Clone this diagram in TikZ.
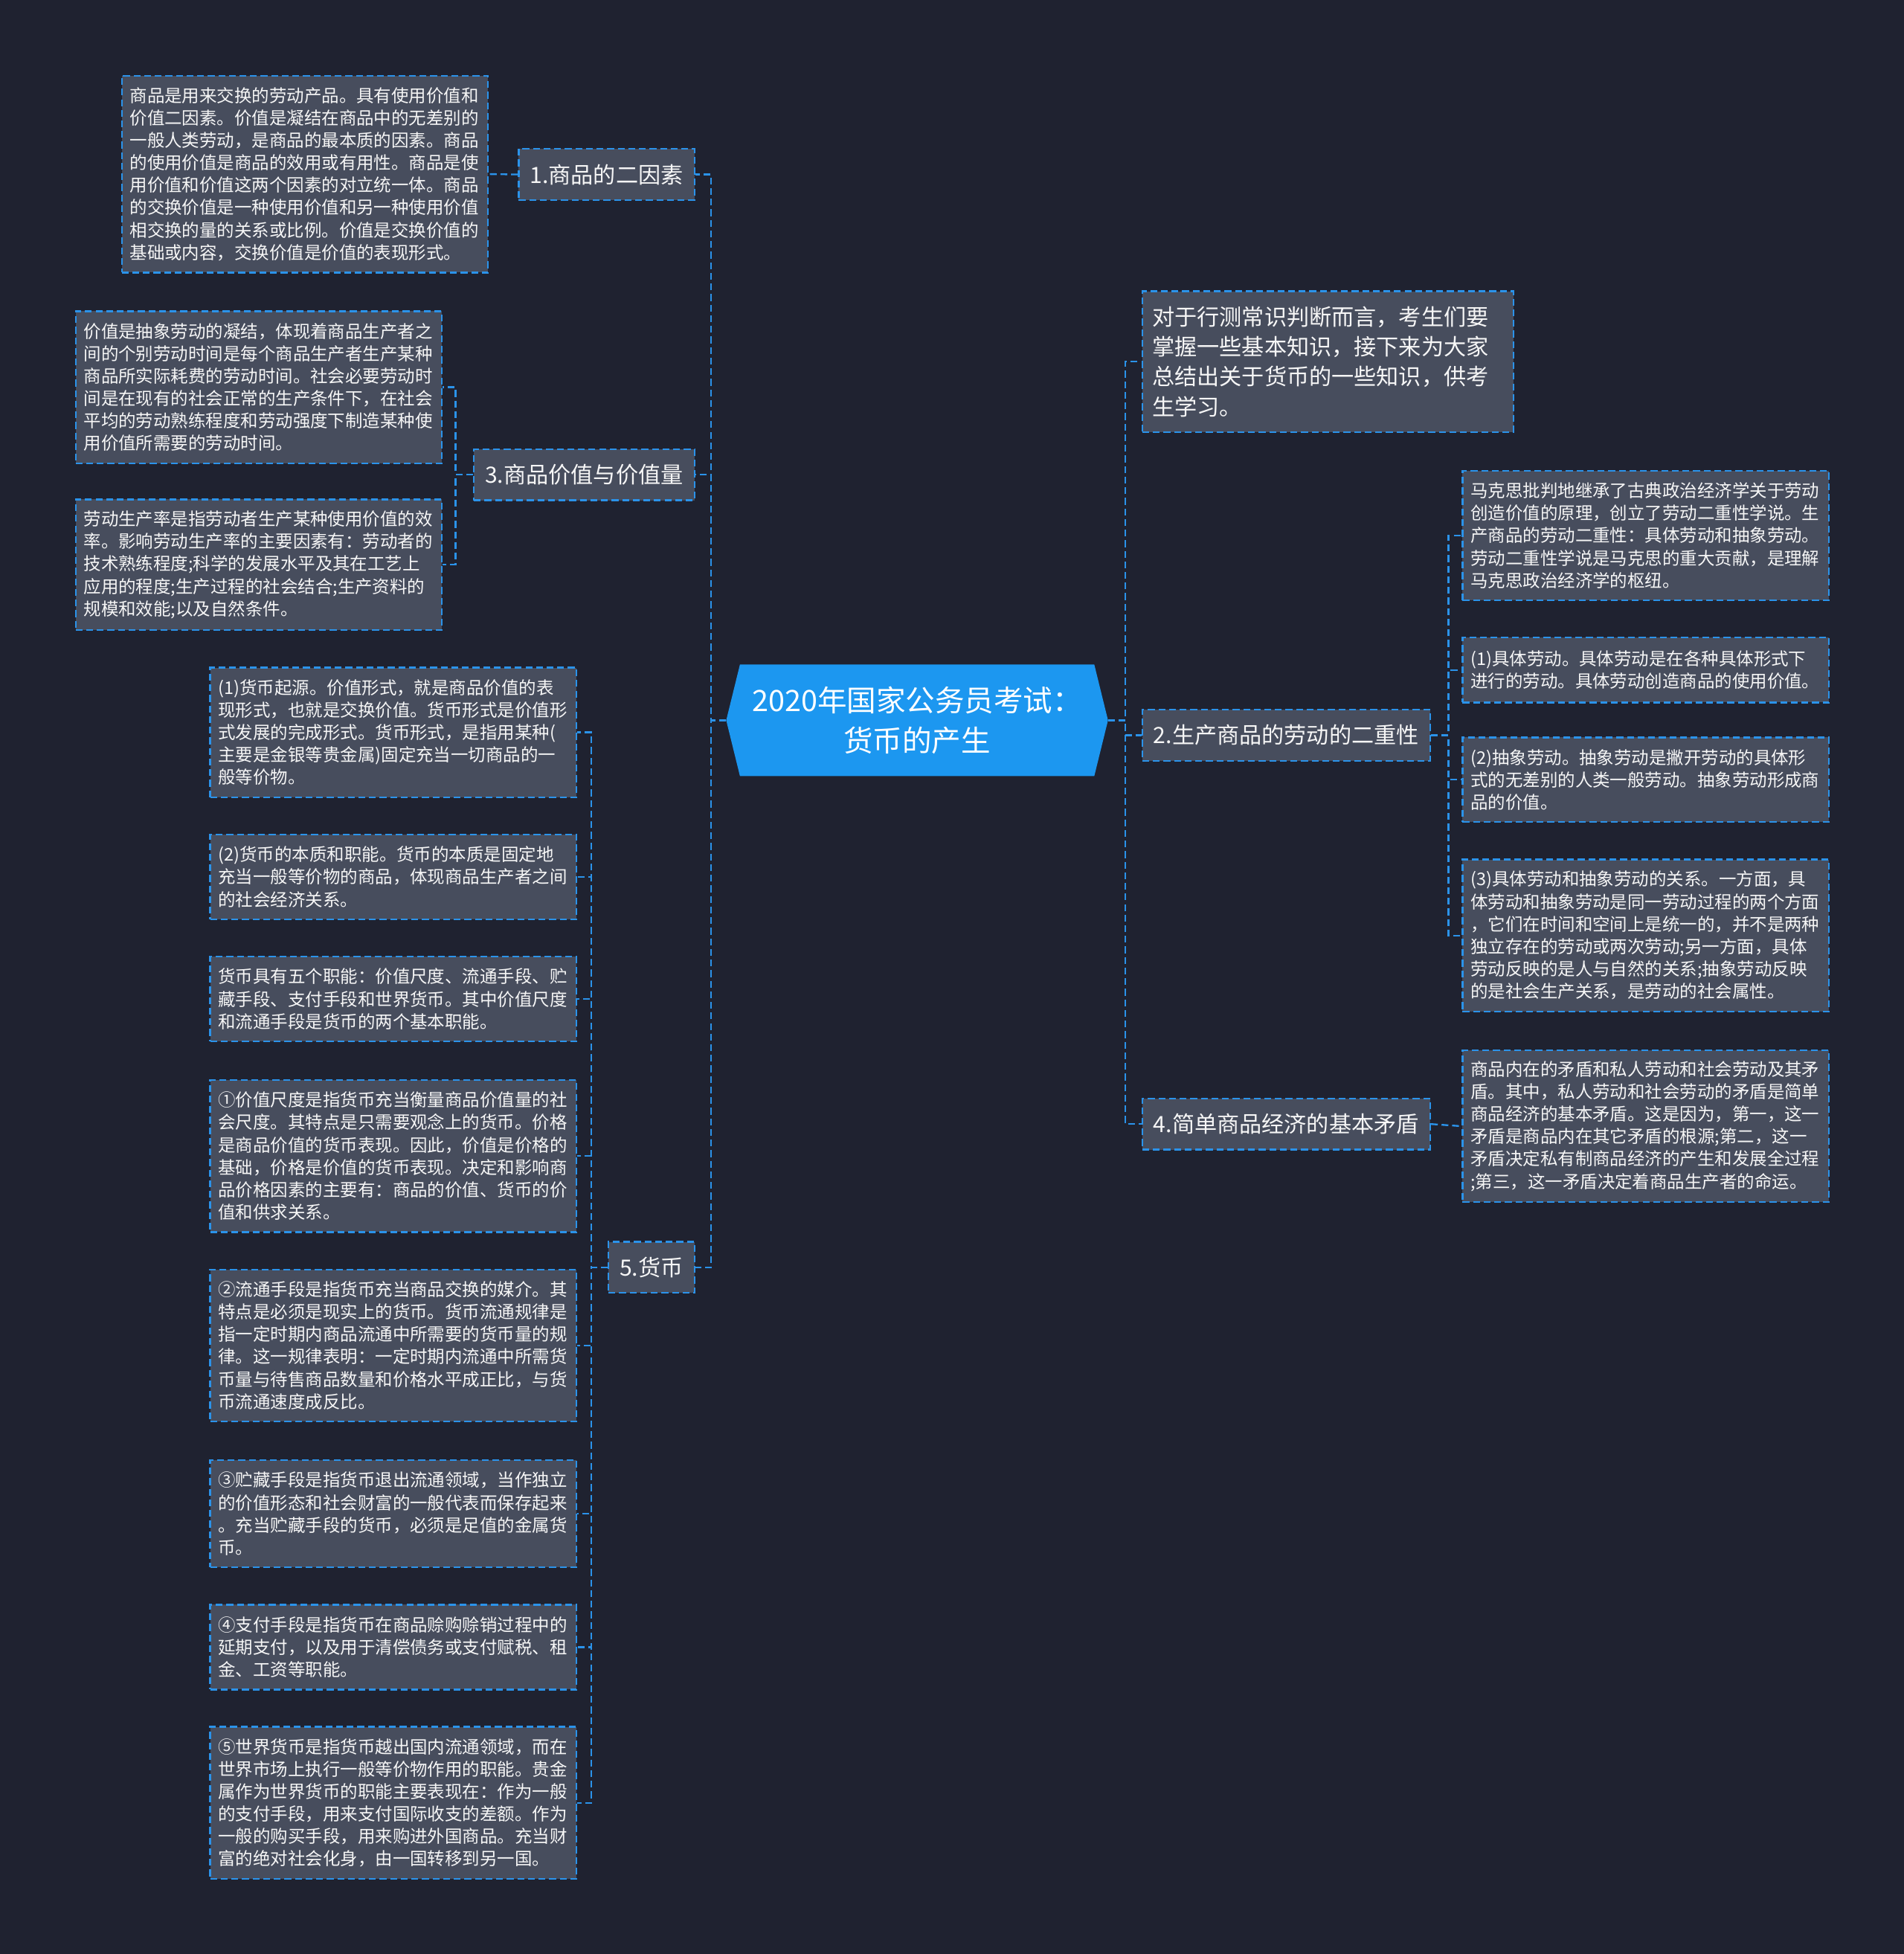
\documentclass[tikz,border=0pt]{standalone}
\usepackage{fontspec}
\setmainfont{Noto Sans CJK SC}
\usetikzlibrary{backgrounds}
\definecolor{bgc}{HTML}{1F2230}
\definecolor{boxc}{HTML}{474D5D}
\definecolor{linec}{HTML}{2B93EA}
\definecolor{rootc}{HTML}{1C97F0}
\definecolor{txtc}{HTML}{F6F6F6}
\begin{document}
\begin{tikzpicture}[x=1pt,y=-1pt,
  leaf/.style={draw=linec, fill=boxc, dash pattern=on 5.5pt off 3pt, line width=1.4pt, text=txtc,
    font=\fontsize{14}{18}\selectfont, text width=281pt, align=left, inner xsep=6.5pt, inner ysep=0pt, anchor=north west},
  topic/.style={draw=linec, fill=boxc, dash pattern=on 5.5pt off 3pt, line width=1.4pt, text=txtc,
    font=\fontsize{18}{24}\selectfont, inner xsep=9pt, inner ysep=0pt, minimum height=41pt},
  conn/.style={draw=linec, dash pattern=on 5.5pt off 3pt, line width=1.4pt}
]
\useasboundingbox (0,0) rectangle (1528,1568);

% root
\node[text=white, font=\fontsize{23.6}{32}\selectfont, align=center, minimum width=306pt, minimum height=89pt, inner sep=0pt] (root) at (736,578) {2020年国家公务员考试：\\货币的产生};

% level 1 left
\node[topic, anchor=east] (n1) at (558,140) {1.商品的二因素};
\node[topic, anchor=east] (n3) at (558,381) {3.商品价值与价值量};
\node[topic, anchor=east] (n5) at (558,1017) {5.货币};

% level 1 right
\node[leaf, font=\fontsize{18}{24}\selectfont, text width=282pt, inner xsep=8pt, minimum height=113pt] (intro) at (916,233) {对于行测常识判断而言，考生们要\\掌握一些基本知识，接下来为大家\\总结出关于货币的一些知识，供考\\生学习。};
\node[topic, anchor=west] (n2) at (916,590) {2.生产商品的劳动的二重性};
\node[topic, anchor=west] (n4) at (916,902) {4.简单商品经济的基本矛盾};

% children of 1
\node[leaf, minimum height=158pt] (a1) at (97,60) {商品是用来交换的劳动产品。具有使用价值和\\价值二因素。价值是凝结在商品中的无差别的\\一般人类劳动，是商品的最本质的因素。商品\\的使用价值是商品的效用或有用性。商品是使\\用价值和价值这两个因素的对立统一体。商品\\的交换价值是一种使用价值和另一种使用价值\\相交换的量的关系或比例。价值是交换价值的\\基础或内容，交换价值是价值的表现形式。};

% children of 3
\node[leaf, minimum height=122pt] (b1) at (60,249) {价值是抽象劳动的凝结，体现着商品生产者之\\间的个别劳动时间是每个商品生产者生产某种\\商品所实际耗费的劳动时间。社会必要劳动时\\间是在现有的社会正常的生产条件下，在社会\\平均的劳动熟练程度和劳动强度下制造某种使\\用价值所需要的劳动时间。};
\node[leaf, minimum height=105pt] (b2) at (60,400) {劳动生产率是指劳动者生产某种使用价值的效\\率。影响劳动生产率的主要因素有：劳动者的\\技术熟练程度;科学的发展水平及其在工艺上\\应用的程度;生产过程的社会结合;生产资料的\\规模和效能;以及自然条件。};

% children of 5
\node[leaf, minimum height=104pt] (c1) at (168,535) {(1)货币起源。价值形式，就是商品价值的表\\现形式，也就是交换价值。货币形式是价值形\\式发展的完成形式。货币形式，是指用某种(\\主要是金银等贵金属)固定充当一切商品的一\\般等价物。};
\node[leaf, minimum height=68pt] (c2) at (168,669) {(2)货币的本质和职能。货币的本质是固定地\\充当一般等价物的商品，体现商品生产者之间\\的社会经济关系。};
\node[leaf, minimum height=68pt] (c3) at (168,767) {货币具有五个职能：价值尺度、流通手段、贮\\藏手段、支付手段和世界货币。其中价值尺度\\和流通手段是货币的两个基本职能。};
\node[leaf, minimum height=122pt] (c4) at (168,866) {①价值尺度是指货币充当衡量商品价值量的社\\会尺度。其特点是只需要观念上的货币。价格\\是商品价值的货币表现。因此，价值是价格的\\基础，价格是价值的货币表现。决定和影响商\\品价格因素的主要有：商品的价值、货币的价\\值和供求关系。};
\node[leaf, minimum height=122pt] (c5) at (168,1018) {②流通手段是指货币充当商品交换的媒介。其\\特点是必须是现实上的货币。货币流通规律是\\指一定时期内商品流通中所需要的货币量的规\\律。这一规律表明：一定时期内流通中所需货\\币量与待售商品数量和价格水平成正比，与货\\币流通速度成反比。};
\node[leaf, minimum height=86pt] (c6) at (168,1171) {③贮藏手段是指货币退出流通领域，当作独立\\的价值形态和社会财富的一般代表而保存起来\\。充当贮藏手段的货币，必须是足值的金属货\\币。};
\node[leaf, minimum height=68pt] (c7) at (168,1287) {④支付手段是指货币在商品赊购赊销过程中的\\延期支付，以及用于清偿债务或支付赋税、租\\金、工资等职能。};
\node[leaf, minimum height=122pt] (c8) at (168,1385) {⑤世界货币是指货币越出国内流通领域，而在\\世界市场上执行一般等价物作用的职能。贵金\\属作为世界货币的职能主要表现在：作为一般\\的支付手段，用来支付国际收支的差额。作为\\一般的购买手段，用来购进外国商品。充当财\\富的绝对社会化身，由一国转移到另一国。};

% children of 2
\node[leaf, minimum height=104pt] (d1) at (1173,377) {马克思批判地继承了古典政治经济学关于劳动\\创造价值的原理，创立了劳动二重性学说。生\\产商品的劳动二重性：具体劳动和抽象劳动。\\劳动二重性学说是马克思的重大贡献，是理解\\马克思政治经济学的枢纽。};
\node[leaf, minimum height=52pt] (d2) at (1173,511) {(1)具体劳动。具体劳动是在各种具体形式下\\进行的劳动。具体劳动创造商品的使用价值。};
\node[leaf, minimum height=68pt] (d3) at (1173,591) {(2)抽象劳动。抽象劳动是撇开劳动的具体形\\式的无差别的人类一般劳动。抽象劳动形成商\\品的价值。};
\node[leaf, minimum height=122pt] (d4) at (1173,689) {(3)具体劳动和抽象劳动的关系。一方面，具\\体劳动和抽象劳动是同一劳动过程的两个方面\\，它们在时间和空间上是统一的，并不是两种\\独立存在的劳动或两次劳动;另一方面，具体\\劳动反映的是人与自然的关系;抽象劳动反映\\的是社会生产关系，是劳动的社会属性。};

% child of 4
\node[leaf, minimum height=122pt] (e1) at (1173,842) {商品内在的矛盾和私人劳动和社会劳动及其矛\\盾。其中，私人劳动和社会劳动的矛盾是简单\\商品经济的基本矛盾。这是因为，第一，这一\\矛盾是商品内在其它矛盾的根源;第二，这一\\矛盾决定私有制商品经济的产生和发展全过程\\;第三，这一矛盾决定着商品生产者的命运。};

% background and root shape
\begin{scope}[on background layer]
  \fill[bgc] (0,0) rectangle (1528,1568);
  \fill[rootc] (root.west) -- ([xshift=11pt]root.north west) -- ([xshift=-11pt]root.north east)
    -- (root.east) -- ([xshift=-11pt]root.south east) -- ([xshift=11pt]root.south west) -- cycle;
\end{scope}

% connectors: root
\foreach \t in {n1,n3,n5}
  \draw[conn] (root.west) -- ([xshift=-12pt]root.west) |- (\t.east);
\foreach \t in {intro,n2,n4}
  \draw[conn] (root.east) -- ([xshift=14pt]root.east) |- (\t.west);

% level 2 connectors
\draw[conn] (n1.west) -- (a1.east);
\foreach \t in {b1,b2}
  \draw[conn] (n3.west) -- ([xshift=-14pt]n3.west) |- (\t.east);
\foreach \t in {c1,c2,c3,c4,c5,c6,c7,c8}
  \draw[conn] (n5.west) -- ([xshift=-13pt]n5.west) |- (\t.east);
\foreach \t in {d1,d2,d3,d4}
  \draw[conn] (n2.east) -- ([xshift=14pt]n2.east) |- (\t.west);
\draw[conn] (n4.east) -- (e1.west);
\end{tikzpicture}
\end{document}
